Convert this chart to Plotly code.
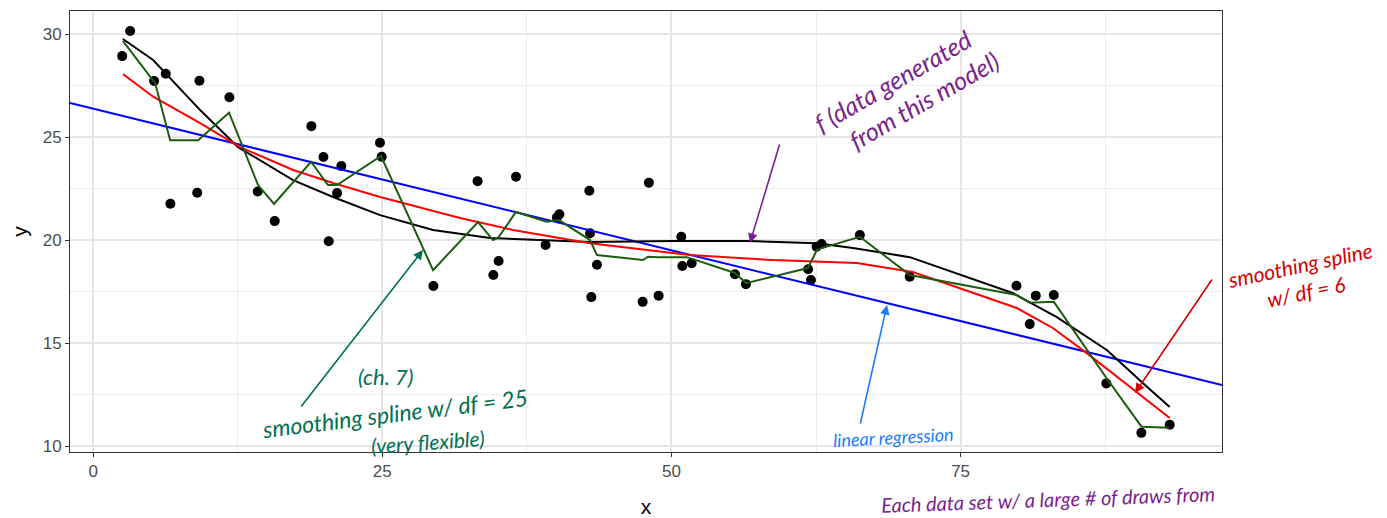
import plotly.graph_objects as go

# ---- data ----
pts_x = [2.51, 3.2, 5.27, 6.28, 6.68, 9.19, 9.0, 11.78, 14.23, 15.70, 18.87, 19.91, 20.37, 21.09,
         21.46, 24.8, 24.95, 29.42, 33.24, 36.56, 40.31, 40.1, 39.12, 42.9, 42.96, 48.05, 50.85,
         62.55, 62.98, 66.29, 35.06, 34.6, 43.56, 43.07, 47.51, 48.89, 50.94, 51.75, 55.49,
         56.44, 61.82, 62.06, 70.6, 79.83, 81.5, 83.06, 80.98, 87.6, 90.63, 93.08]
pts_y = [28.93, 30.15, 27.72, 28.07, 21.76, 27.73, 22.30, 26.93, 22.36, 20.92, 25.53, 24.03, 19.94,
         22.28, 23.59, 24.72, 24.04, 17.77, 22.86, 23.07, 21.25, 21.1, 19.76, 22.39, 20.33, 22.78,
         20.16, 19.68, 19.81, 20.24, 18.98, 18.30, 18.80, 17.23, 17.0, 17.30, 18.74, 18.87, 18.34,
         17.86, 18.58, 18.06, 18.22, 17.78, 17.30, 17.33, 15.92, 13.04, 10.64, 11.03]

true_x = [2.57, 5.19, 9.25, 12.53, 17.29, 20.74, 24.81, 29.39, 34.31, 42.96, 50.13, 56.78,
          62.57, 65.69, 70.61, 79.5, 83.32, 87.64, 90.75, 93.08]
true_y = [29.76, 28.74, 26.31, 24.51, 22.91, 22.09, 21.21, 20.49, 20.10, 19.90, 19.95, 19.95,
          19.85, 19.61, 19.17, 17.43, 16.26, 14.66, 13.06, 11.89]

ss6_x = [2.57, 5.19, 9.25, 12.71, 17.29, 20.74, 24.81, 31.72, 36.3, 42.96, 51.6, 58.77, 66.03,
         70.87, 79.86, 82.97, 85.91, 90.23, 93.08]
ss6_y = [28.06, 26.96, 25.68, 24.51, 23.40, 22.77, 22.09, 21.07, 20.49, 19.85, 19.27, 19.03,
         18.88, 18.45, 16.70, 15.73, 14.51, 12.62, 11.36]

ss25_x = [2.57, 5.36, 6.66, 9.08, 11.75, 14.26, 15.64, 18.84, 20.31, 21.09, 24.89, 29.39, 33.28,
          34.57, 35.0, 36.56, 39.21, 40.28, 42.96, 43.56, 47.54, 47.97, 48.84, 51.34, 55.49,
          56.44, 61.80, 62.57, 63.0, 66.29, 70.61, 79.84, 80.98, 83.06, 87.61, 90.64, 93.08]
ss25_y = [29.67, 27.62, 24.85, 24.85, 26.18, 22.67, 21.75, 23.80, 22.67, 22.67, 24.08, 18.54,
          20.87, 20.0, 20.1, 21.36, 20.89, 20.97, 20.0, 19.27, 19.03, 19.19, 19.17, 19.17, 18.40,
          17.91, 18.64, 19.51, 19.61, 20.16, 18.30, 17.33, 16.96, 17.0, 13.30, 10.94, 10.89]

lm_x = [-2.0, 97.6]
lm_y = [26.65, 12.96]

x_ticks = [0, 25, 50, 75]
y_ticks = [10, 15, 20, 25, 30]

# page has an 8px body margin: figure occupies page px 8..1387
OFF = 8
W, H = 1387 - OFF, 518 - OFF
L, R, T, B = 70, 1222, 11, 452   # plot area in page pixels

def px(xp):
    return (xp - L) / (R - L)

def py(yp):
    return (B - yp) / (B - T)

fig = go.Figure()
fig.add_trace(go.Scatter(x=pts_x, y=pts_y, mode="markers",
                         marker=dict(color="black", size=10), showlegend=False))
fig.add_trace(go.Scatter(x=lm_x, y=lm_y, mode="lines",
                         line=dict(color="blue", width=2), showlegend=False))
fig.add_trace(go.Scatter(x=true_x, y=true_y, mode="lines",
                         line=dict(color="black", width=2), showlegend=False))
fig.add_trace(go.Scatter(x=ss6_x, y=ss6_y, mode="lines",
                         line=dict(color="red", width=2), showlegend=False))
fig.add_trace(go.Scatter(x=ss25_x, y=ss25_y, mode="lines",
                         line=dict(color="#1c5c10", width=2), showlegend=False))

grid = "#e6e6e6"
axis_common = dict(showline=True, linecolor="#333333", linewidth=1, mirror=True,
                   showgrid=True, gridcolor=grid, gridwidth=1.6, zeroline=False,
                   ticks="outside", ticklen=4, tickcolor="#333333",
                   tickfont=dict(family="Liberation Sans, Arial", size=17, color="#4d4d4d"))

fig.update_xaxes(range=[-2.0, 97.6], tickvals=x_ticks, ticktext=[str(v) for v in x_ticks],
                 minor=dict(tickvals=[12.5, 37.5, 62.5, 87.5], showgrid=True,
                            gridcolor="#ececec", gridwidth=1, ticks=""),
                 title=dict(text="x", font=dict(family="Liberation Sans, Arial", size=21, color="black"),
                            standoff=18),
                 **axis_common)
fig.update_yaxes(range=[9.71, 31.12], tickvals=y_ticks, ticktext=[str(v) for v in y_ticks],
                 minor=dict(tickvals=[12.5, 17.5, 22.5, 27.5], showgrid=True,
                            gridcolor="#ececec", gridwidth=1, ticks=""),
                 title=dict(text="y", font=dict(family="Liberation Sans, Arial", size=21, color="black"),
                            standoff=16),
                 **axis_common)

hand = "Lato, Noto Sans"
purple = "#7a1f8e"
red = "#d40000"
green = "#007050"
blue = "#1a7cff"

ann = []

def arrow(hx, hy, tx, ty, color):
    ann.append(dict(xref="paper", yref="paper", x=px(hx), y=py(hy), ax=tx - hx, ay=ty - hy,
                    axref="pixel", ayref="pixel", showarrow=True, arrowhead=2, arrowsize=1.2,
                    arrowwidth=1.6, arrowcolor=color, text=""))

def label(cx, cy, text, color, size, angle=0):
    ann.append(dict(xref="paper", yref="paper", x=px(cx), y=py(cy), text=text, showarrow=False,
                    textangle=angle, font=dict(family=hand, size=size, color=color),
                    xanchor="center", yanchor="middle"))

arrow(750, 243, 780, 143, purple)
label(900, 95, "<i>f (data generated<br>      from this model)</i>", purple, 25, -30)

arrow(1135, 393, 1213, 278, red)
label(1302, 278, "<i>smoothing spline<br>w/ df = 6</i>", red, 21, -12)

arrow(423, 250, 300, 408, green)
label(385, 376, "<i>(ch. 7)</i>", green, 22)
label(395, 413, "<i>smoothing spline w/ df = 25</i>", green, 23, -7)
label(428, 441, "<i>(very flexible)</i>", green, 21, -4)

arrow(887, 305, 860, 425, blue)
label(893, 437, "<i>linear regression</i>", blue, 18, -3)

label(1048, 499, "<i>Each data set w/ a large # of draws from</i>", purple, 20, -2)

fig.update_layout(width=W, height=H,
                  margin=dict(l=L - OFF, r=(OFF + W) - R, t=T - OFF, b=(OFF + H) - B),
                  plot_bgcolor="white", paper_bgcolor="white", annotations=ann,
                  font=dict(family="Liberation Sans, Arial"))

fig.write_html("out.html")
